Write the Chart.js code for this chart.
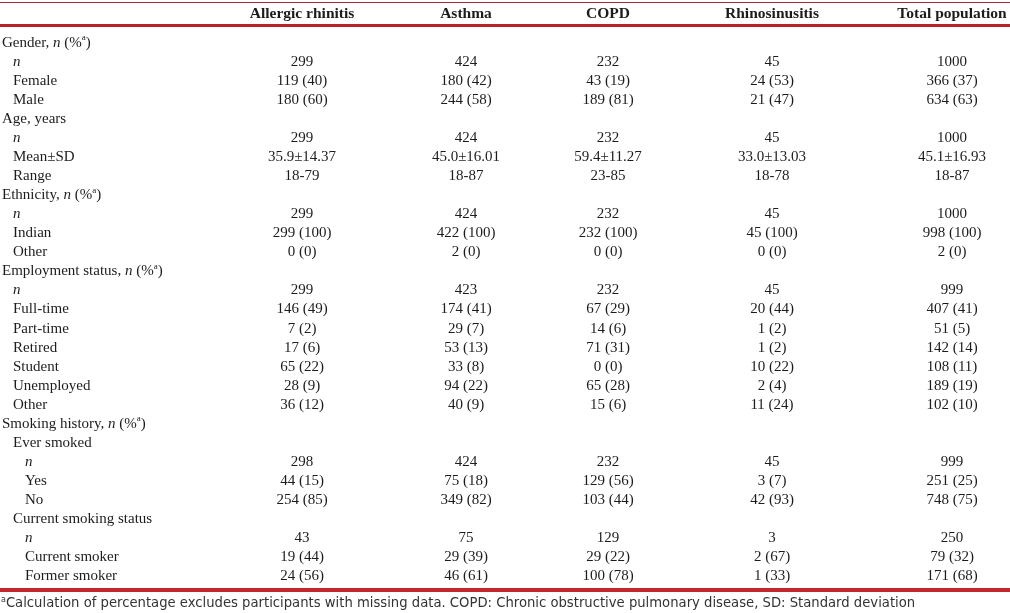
<!DOCTYPE html>
<html>
<head>
<meta charset="utf-8">
<script src="https://cdn.jsdelivr.net/npm/chart.js@4"></script>
<style>
  html, body { margin: 0; padding: 0; background: #fff; }
  #wrap { width: 1010px; height: 613px; position: relative; }
</style>
</head>
<body>
<div id="wrap"><canvas id="tableChart"></canvas></div>
<script>
// column headers
const columns = ['Allergic rhinitis', 'Asthma', 'COPD', 'Rhinosinusitis', 'Total population'];

// row labels (_x_ = italic, ^x^ = superscript)
const rowLabels = [
  'Gender, _n_ (%^a^)', '_n_', 'Female', 'Male',
  'Age, years', '_n_', 'Mean±SD', 'Range',
  'Ethnicity, _n_ (%^a^)', '_n_', 'Indian', 'Other',
  'Employment status, _n_ (%^a^)', '_n_', 'Full-time', 'Part-time', 'Retired', 'Student', 'Unemployed', 'Other',
  'Smoking history, _n_ (%^a^)', 'Ever smoked', '_n_', 'Yes', 'No',
  'Current smoking status', '_n_', 'Current smoker', 'Former smoker'
];
const rowIndent = [0,1,1,1, 0,1,1,1, 0,1,1,1, 0,1,1,1,1,1,1,1, 0,1,2,2,2, 1,2,2,2];

const allergicRhinitis = ['', '299', '119 (40)', '180 (60)', '', '299', '35.9±14.37', '18-79',
  '', '299', '299 (100)', '0 (0)', '', '299', '146 (49)', '7 (2)', '17 (6)', '65 (22)', '28 (9)', '36 (12)',
  '', '', '298', '44 (15)', '254 (85)', '', '43', '19 (44)', '24 (56)'];
const asthma = ['', '424', '180 (42)', '244 (58)', '', '424', '45.0±16.01', '18-87',
  '', '424', '422 (100)', '2 (0)', '', '423', '174 (41)', '29 (7)', '53 (13)', '33 (8)', '94 (22)', '40 (9)',
  '', '', '424', '75 (18)', '349 (82)', '', '75', '29 (39)', '46 (61)'];
const copd = ['', '232', '43 (19)', '189 (81)', '', '232', '59.4±11.27', '23-85',
  '', '232', '232 (100)', '0 (0)', '', '232', '67 (29)', '14 (6)', '71 (31)', '0 (0)', '65 (28)', '15 (6)',
  '', '', '232', '129 (56)', '103 (44)', '', '129', '29 (22)', '100 (78)'];
const rhinosinusitis = ['', '45', '24 (53)', '21 (47)', '', '45', '33.0±13.03', '18-78',
  '', '45', '45 (100)', '0 (0)', '', '45', '20 (44)', '1 (2)', '1 (2)', '10 (22)', '2 (4)', '11 (24)',
  '', '', '45', '3 (7)', '42 (93)', '', '3', '2 (67)', '1 (33)'];
const totalPopulation = ['', '1000', '366 (37)', '634 (63)', '', '1000', '45.1±16.93', '18-87',
  '', '1000', '998 (100)', '2 (0)', '', '999', '407 (41)', '51 (5)', '142 (14)', '108 (11)', '189 (19)', '102 (10)',
  '', '', '999', '251 (25)', '748 (75)', '', '250', '79 (32)', '171 (68)'];

const footnote = '^a^Calculation of percentage excludes participants with missing data. COPD: Chronic obstructive pulmonary disease, SD: Standard deviation';

// layout
const colX = [302, 466, 608, 772, 952];
const indentX = [2, 13, 25];
const serif = '"Liberation Serif", "Times New Roman", serif';
const sans = '"DejaVu Sans", Verdana, sans-serif';

function drawRich(ctx, text, x, y, size, family, weight, align) {
  const parts = text.split(/(_[^_]+_|\^[^^]+\^)/).filter(p => p);
  const fontFor = p => {
    if (p[0] === '_') return `italic ${weight} ${size}px ${family}`;
    if (p[0] === '^') return `${weight} ${Math.round(size * 0.62)}px ${family}`;
    return `${weight} ${size}px ${family}`;
  };
  const clean = p => (p[0] === '_' || p[0] === '^') ? p.slice(1, -1) : p;
  let total = 0;
  parts.forEach(p => { ctx.font = fontFor(p); total += ctx.measureText(clean(p)).width; });
  let cx = align === 'center' ? x - total / 2 : x;
  ctx.textAlign = 'left';
  parts.forEach(p => {
    ctx.font = fontFor(p);
    const dy = p[0] === '^' ? -size * 0.33 : 0;
    ctx.fillText(clean(p), cx, y + dy);
    cx += ctx.measureText(clean(p)).width;
  });
}

const tablePlugin = {
  id: 'tablePlugin',
  afterDraw(chart) {
    const ctx = chart.ctx;
    const xs = chart.scales.x;
    const ys = chart.scales.y;
    const cols = [allergicRhinitis, asthma, copd, rhinosinusitis, totalPopulation];
    ctx.save();
    ctx.textBaseline = 'middle';
    ctx.fillStyle = '#1e1b1c';

    // rules
    ctx.strokeStyle = '#a2262d';
    ctx.lineWidth = 1;
    ctx.beginPath(); ctx.moveTo(0, 2.5); ctx.lineTo(1010, 2.5); ctx.stroke();
    ctx.strokeStyle = '#b8232b';
    ctx.lineWidth = 3;
    ctx.beginPath(); ctx.moveTo(0, 25.5); ctx.lineTo(1010, 25.5); ctx.stroke();
    ctx.strokeStyle = '#c1272d';
    ctx.lineWidth = 4;
    ctx.beginPath(); ctx.moveTo(0, 590); ctx.lineTo(1010, 590); ctx.stroke();

    // header
    columns.forEach((c, j) => {
      drawRich(ctx, c, xs.getPixelForValue(colX[j]), 14, 15.5, serif, 'bold', 'center');
    });

    // body
    rowLabels.forEach((lab, i) => {
      const y = ys.getPixelForValue(i);
      drawRich(ctx, lab, indentX[rowIndent[i]], y, 15, serif, 'normal', 'left');
      cols.forEach((vals, j) => {
        if (vals[i]) drawRich(ctx, vals[i], xs.getPixelForValue(colX[j]), y, 15, serif, 'normal', 'center');
      });
    });

    // footnote
    ctx.fillStyle = '#333';
    drawRich(ctx, footnote, 1, 604, 13.2, sans, 'normal', 'left');
    ctx.restore();
  }
};

new Chart(document.getElementById('tableChart'), {
  type: 'scatter',
  data: { labels: rowLabels, datasets: [{ data: [] }] },
  options: {
    responsive: true,
    maintainAspectRatio: false,
    animation: false,
    events: [],
    layout: { padding: { left: 0, right: 0, top: 33.5, bottom: 27.4 } },
    plugins: { legend: { display: false }, tooltip: { enabled: false } },
    scales: {
      x: { type: 'linear', min: 0, max: 1010, offset: false, display: false },
      y: { type: 'category', labels: rowLabels, offset: true, display: false }
    }
  },
  plugins: [tablePlugin]
});
</script>
</body>
</html>
